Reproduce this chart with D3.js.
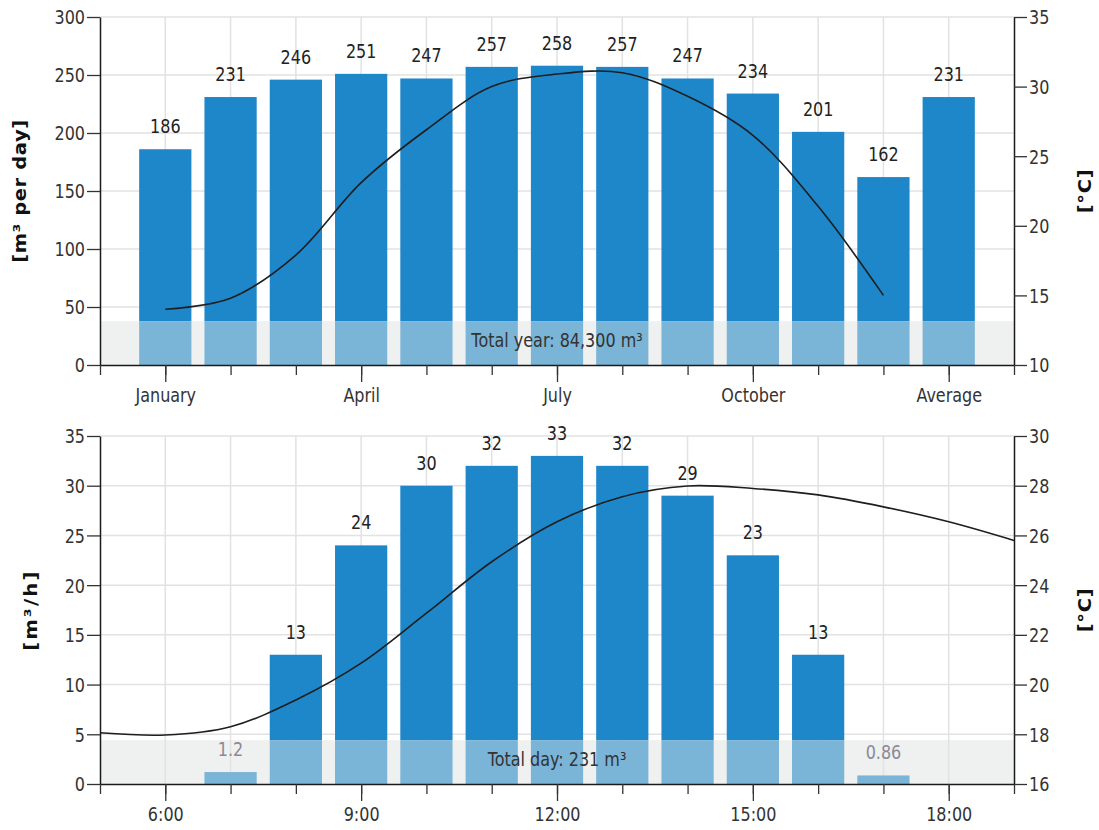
<!DOCTYPE html>
<html><head><meta charset="utf-8">
<script src="https://cdn.jsdelivr.net/npm/d3@7"></script>
<style>
body{margin:0;background:#fff}
svg{display:block}
text{font-family:"DejaVu Sans",sans-serif}
</style></head>
<body>
<svg id="c" width="1099" height="830"></svg>
<script>
// ---------- DATA ----------
const months = ["January","February","March","April","May","June","July","August","September","October","November","December","Average"];
const monthlyFlow = [186,231,246,251,247,257,258,257,247,234,201,162,231];
const tempMonths = ["January","February","March","April","May","June","July","August","September","October","November","December"];
const monthlyTemp = [14.0,14.8,17.9,23.1,26.9,30.0,30.9,31.0,29.3,26.5,21.4,15.0];
const monthTickLabels = ["January","April","July","October","Average"];
const flowTicksTop = [0,50,100,150,200,250,300];
const tempTicksTop = [10,15,20,25,30,35];
const totalYearText = "Total year: 84,300 m³";

const hours = [7,8,9,10,11,12,13,14,15,16,17];
const hourlyFlow = [1.2,13,24,30,32,33,32,29,23,13,0.86];
const tempHours = [5,6,7,8,9,10,11,12,13,14,15,16,17,18,19];
const hourlyTemp = [18.06,17.97,18.3,19.38,20.86,22.87,24.94,26.55,27.56,27.99,27.89,27.63,27.15,26.55,25.8];
const hourTickLabels = ["6:00","9:00","12:00","15:00","18:00"];
const flowTicksBottom = [0,5,10,15,20,25,30,35];
const tempTicksBottom = [16,18,20,22,24,26,28,30];
const totalDayText = "Total day: 231 m³";

// ---------- LAYOUT ----------
const L = 100, R = 1014, SY = 1.2;
const svg = d3.select("#c");

function stretch(sel){
  sel.each(function(){
    const t = d3.select(this);
    const x = +t.attr("x") || 0, y = +t.attr("y") || 0;
    t.attr("x",0).attr("y",0).attr("transform",`translate(${x},${y}) scale(1,${SY})`);
  });
}

function panel(c){
  const g = svg.append("g");
  const x = d3.scaleLinear().domain(c.xDomain).range([L,R]);
  const y = d3.scaleLinear().domain(c.yLeft).range([c.bottom,c.top]);
  const y2 = d3.scaleLinear().domain(c.yRight).range([c.bottom,c.top]);
  const bandTop = c.bottom - 0.126*(c.bottom-c.top);

  g.append("rect").attr("x",L).attr("y",bandTop).attr("width",R-L)
    .attr("height",c.bottom-bandTop).attr("fill","#eff0f0");

  g.append("g").selectAll("line").data(c.yLeftTicks.filter(v=>v>c.yLeft[0])).join("line")
    .attr("x1",L).attr("x2",R).attr("y1",d=>y(d)).attr("y2",d=>y(d))
    .attr("stroke","#e2e2e2").attr("stroke-width",1.5);
  g.append("g").selectAll("line").data(c.gridX).join("line")
    .attr("x1",d=>x(d)).attr("x2",d=>x(d)).attr("y1",c.top).attr("y2",c.bottom)
    .attr("stroke","#e2e2e2").attr("stroke-width",1.5);

  const bw = x(c.xDomain[0]+0.8)-x(c.xDomain[0]);
  const bars = c.barX.map((k,i)=>({k, v:c.barVals[i]}));
  const bg = g.append("g");
  bars.forEach(b=>{
    const yt = y(b.v), xc = x(b.k);
    if (yt < bandTop){
      bg.append("rect").attr("x",xc-bw/2).attr("y",yt).attr("width",bw)
        .attr("height",bandTop-yt).attr("fill","#1e87c9");
    }
    const ly = Math.max(yt,bandTop);
    bg.append("rect").attr("x",xc-bw/2).attr("y",ly).attr("width",bw)
      .attr("height",c.bottom-ly).attr("fill","#7ab4d7");
    bg.append("text").attr("x",xc).attr("y",yt-16).attr("text-anchor","middle")
      .attr("font-size",16).attr("fill", yt>=bandTop ? "#8a8a98" : "#222")
      .text(b.v).call(stretch);
  });

  g.append("text").attr("x",(L+R)/2).attr("y",bandTop+26).attr("text-anchor","middle")
    .attr("font-size",16).attr("fill","#333").text(c.totalText).call(stretch);

  const line = d3.line().x((d,i)=>x(c.lineX[i])).y(d=>y2(d)).curve(d3.curveCatmullRom.alpha(0.5));
  g.append("path").attr("d",line(c.lineVals)).attr("fill","none")
    .attr("stroke","#1e1e1e").attr("stroke-width",1.6);

  // axes
  const ax = (a, tr)=>{
    const s = g.append("g").attr("transform",tr).call(a)
      .attr("font-family",null).attr("font-size",null).attr("color","#333");
    s.selectAll(".domain").attr("stroke","#1a1a1a").attr("stroke-width",1.5);
    s.selectAll(".tick line").attr("stroke-width",1.3);
    s.selectAll("text").attr("font-size",16).attr("fill","#333");
    return s;
  };
  const la = ax(d3.axisLeft(y).tickValues(c.yLeftTicks).tickSize(13).tickPadding(2).tickSizeOuter(0),`translate(${L},0)`);
  la.selectAll("text").attr("dy","0.36em").call(stretch);
  const ra = ax(d3.axisRight(y2).tickValues(c.yRightTicks).tickSize(13).tickPadding(2).tickSizeOuter(0),`translate(${R},0)`);
  ra.selectAll("text").attr("dy","0.36em").call(stretch);
  const mi = ax(d3.axisBottom(x).tickValues(c.minorTicks).tickSize(10).tickFormat("").tickSizeOuter(0),`translate(0,${c.bottom})`);
  const ma = ax(d3.axisBottom(x).tickValues(c.majorTicks).tickSize(17).tickFormat((d,i)=>c.majorLabels[i]).tickSizeOuter(0),`translate(0,${c.bottom})`);
  ma.select(".domain").remove();
  ma.selectAll("text").attr("dy",null).attr("y",37).call(stretch);

  // titles
  const title = (txt, tx, ls)=>{
    g.append("text").attr("transform",`translate(${tx},${(c.top+c.bottom)/2}) rotate(-90) scale(1.15,1)`)
      .attr("text-anchor","middle").attr("font-size",17).attr("font-weight","bold")
      .attr("letter-spacing",ls).attr("fill","#111").text(txt);
  };
  title(c.leftTitle, c.leftTitleX, c.leftLS);
  title("[°C]", 1091, 0.6);
}

panel({
  top:17, bottom:365, xDomain:[0,14],
  yLeft:[0,300], yLeftTicks:flowTicksTop, yRight:[10,35], yRightTicks:tempTicksTop,
  barX: months.map((m,i)=>i+1), barVals: monthlyFlow,
  lineX: tempMonths.map((m,i)=>i+1), lineVals: monthlyTemp,
  gridX: months.map((m,i)=>i+1),
  minorTicks: d3.range(0,15), majorTicks: monthTickLabels.map(l=>months.indexOf(l)+1),
  majorLabels: monthTickLabels, totalText: totalYearText,
  leftTitle:"[m³ per day]", leftTitleX:26, leftLS:0.5
});

panel({
  top:436, bottom:784, xDomain:[5,19],
  yLeft:[0,35], yLeftTicks:flowTicksBottom, yRight:[16,30], yRightTicks:tempTicksBottom,
  barX: hours, barVals: hourlyFlow,
  lineX: tempHours, lineVals: hourlyTemp,
  gridX: d3.range(6,19),
  minorTicks: d3.range(5,20), majorTicks: [6,9,12,15,18],
  majorLabels: hourTickLabels, totalText: totalDayText,
  leftTitle:"[m³/h]", leftTitleX:37, leftLS:2
});
</script>
</body></html>
